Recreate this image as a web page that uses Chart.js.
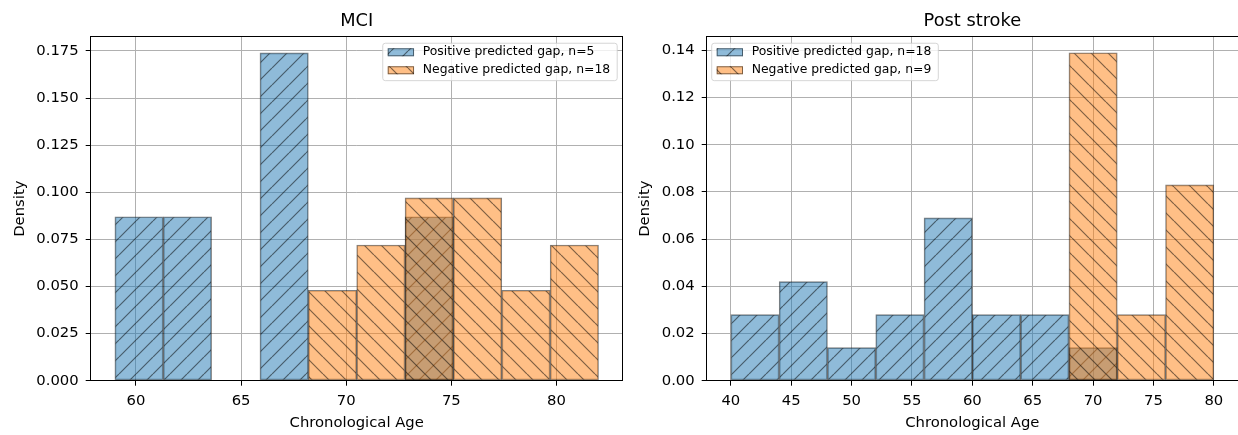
<!DOCTYPE html>
<html>
<head>
<meta charset="utf-8">
<script src="https://cdn.jsdelivr.net/npm/chart.js@4.4.0/dist/chart.umd.min.js"></script>
<style>
  html, body { margin: 0; padding: 0; background: #fff; overflow: hidden; }
  #wrap { position: relative; width: 1238px; height: 435px; overflow: hidden; }
  .panel { position: absolute; top: 0; }
  #mci-box { left: 0; }
  #stroke-box { left: 630px; }
</style>
</head>
<body>
<div id="wrap">
  <div class="panel" id="mci-box"><canvas id="mciChart" width="640" height="435"></canvas></div>
  <div class="panel" id="stroke-box"><canvas id="strokeChart" width="610" height="435"></canvas></div>
</div>
<script>
// MCI histogram (bin centres, density per bin)
const mciBins = [60.15, 62.45, 64.75, 67.05, 69.35, 71.65, 73.95, 76.25, 78.55, 80.85];
const mciPositive = [0.087, 0.087, 0, 0.174, 0, 0, 0.087, 0, 0, 0];
const mciNegative = [0, 0, 0, 0, 0.048, 0.072, 0.097, 0.097, 0.048, 0.072];
const mciLabels = ["Positive predicted gap, n=5", "Negative predicted gap, n=18"];
const mciXTicks = [60, 65, 70, 75, 80];
const mciYTicks = [0, 0.025, 0.05, 0.075, 0.1, 0.125, 0.15, 0.175];

// Post stroke histogram
const strokeBins = [42, 46, 50, 54, 58, 62, 66, 70, 74, 78];
const strokePositive = [0.028, 0.042, 0.014, 0.028, 0.069, 0.028, 0.028, 0.014, 0, 0];
const strokeNegative = [0, 0, 0, 0, 0, 0, 0, 0.139, 0.028, 0.083];
const strokeLabels = ["Positive predicted gap, n=18", "Negative predicted gap, n=9"];
const strokeXTicks = [40, 45, 50, 55, 60, 65, 70, 75, 80];
const strokeYTicks = [0, 0.02, 0.04, 0.06, 0.08, 0.1, 0.12, 0.14];

const FONT = "DejaVu Sans";
const BLUE = "rgba(31,119,180,0.5)";
const ORANGE = "rgba(255,127,14,0.5)";
const EDGE = "rgba(0,0,0,0.5)";

Chart.defaults.font.family = FONT;
Chart.defaults.color = "#000";

// matplotlib-like hatch fill
function hatch(color, dir) {
  const t = 17;
  const c = document.createElement("canvas");
  c.width = t; c.height = t;
  const g = c.getContext("2d");
  g.fillStyle = color;
  g.fillRect(0, 0, t, t);
  g.strokeStyle = EDGE;
  g.lineWidth = 1.2;
  g.beginPath();
  for (let k = -1; k <= 1; k++) {
    if (dir === "/") { g.moveTo(k * t, t); g.lineTo(k * t + t, 0); }
    else { g.moveTo(k * t, 0); g.lineTo(k * t + t, t); }
  }
  g.stroke();
  return g.createPattern(c, "repeat");
}

// spines + framed legend inside the axes
const frameLegend = {
  id: "frameLegend",
  afterDraw(chart, args, opts) {
    const { ctx, chartArea: a } = chart;
    ctx.save();
    ctx.strokeStyle = "#000";
    ctx.lineWidth = 1;
    const l = Math.floor(a.left) + 0.5, r = Math.floor(a.right) + 0.5;
    const t = Math.floor(a.top) + 0.5, b = Math.floor(a.bottom) + 0.5;
    ctx.strokeRect(l, t, r - l, b - t);

    const fs = 12.4;
    ctx.font = fs + "px \"" + FONT + "\"";
    const items = chart.data.datasets;
    const textW = Math.max(...items.map(d => ctx.measureText(d.label).width));
    const w = 40 + textW + 7, h = 37.4;
    const x0 = opts.align === "right" ? a.right - 5.5 - w : a.left + 5;
    const y0 = a.top + 6.6;
    ctx.beginPath();
    if (ctx.roundRect) ctx.roundRect(x0, y0, w, h, 2.5); else ctx.rect(x0, y0, w, h);
    ctx.fillStyle = "rgba(255,255,255,0.8)";
    ctx.fill();
    ctx.strokeStyle = "rgba(204,204,204,0.8)";
    ctx.stroke();
    items.forEach((d, i) => {
      const cy = y0 + 9 + i * 18;
      ctx.fillStyle = d.backgroundColor;
      ctx.fillRect(x0 + 5, cy - 4, 26.3, 8);
      ctx.strokeStyle = d.borderColor;
      ctx.strokeRect(x0 + 5.5, cy - 3.5, 25.3, 7);
      ctx.fillStyle = "#000";
      ctx.textBaseline = "middle";
      ctx.textAlign = "left";
      ctx.fillText(d.label, x0 + 40, cy);
    });
    ctx.restore();
  }
};

function makeHist(id, o) {
  const series = (vals, label, color, dir, order) => ({
    label,
    data: o.bins.map((x, i) => ({ x, y: vals[i] || null })),
    backgroundColor: hatch(color, dir),
    borderColor: EDGE,
    borderWidth: 1,
    borderSkipped: false,
    grouped: false,
    barPercentage: 1,
    categoryPercentage: 1,
    order
  });
  return new Chart(document.getElementById(id), {
    type: "bar",
    data: {
      datasets: [
        series(o.pos, o.labels[0], BLUE, "/", 2),
        series(o.neg, o.labels[1], ORANGE, "\\", 1)
      ]
    },
    options: {
      responsive: false,
      animation: false,
      layout: { padding: { left: 0, right: o.padRight, top: 0, bottom: 0 } },
      scales: {
        x: {
          type: "linear", min: o.xMin, max: o.xMax, offset: false, z: 1,
          afterBuildTicks: s => { s.ticks = o.xTicks.map(v => ({ value: v })); },
          afterFit: s => { s.height = 54.3; },
          grid: { color: "#b0b0b0", lineWidth: 1, offset: false, tickColor: "#000", tickLength: 5 },
          border: { display: false },
          ticks: { font: { size: 14.8 }, padding: 7, autoSkip: false, maxRotation: 0, callback: v => String(v) },
          title: { display: true, text: "Chronological Age", font: { size: 14.8 }, padding: { top: 0, bottom: 3 } }
        },
        y: {
          type: "linear", min: 0, max: o.yMax, z: 1,
          afterBuildTicks: s => { s.ticks = o.yTicks.map(v => ({ value: v })); },
          afterFit: s => { s.width = o.yWidth; },
          grid: { color: "#b0b0b0", lineWidth: 1, tickColor: "#000", tickLength: 5 },
          border: { display: false },
          ticks: { font: { size: 14.8 }, padding: 7, autoSkip: false, callback: v => v.toFixed(o.yDigits) },
          title: { display: true, text: "Density", font: { size: 14.8 }, padding: { top: o.yTitlePad, bottom: 0 } }
        }
      },
      plugins: {
        legend: { display: false },
        tooltip: { enabled: false },
        title: {
          display: true, text: o.title, fullSize: false,
          font: { size: 17.8, weight: "normal" }, color: "#000",
          padding: { top: 11, bottom: 4.3 }
        },
        frameLegend: { align: o.legendAlign }
      }
    },
    plugins: [frameLegend]
  });
}

makeHist("mciChart", {
  title: "MCI", bins: mciBins, pos: mciPositive, neg: mciNegative, labels: mciLabels,
  xTicks: mciXTicks, yTicks: mciYTicks, xMin: 57.85, xMax: 83.15, yMax: 0.1826, yDigits: 3,
  yWidth: 90.7, yTitlePad: 11, padRight: 17.3, legendAlign: "right"
});

makeHist("strokeChart", {
  title: "Post stroke", bins: strokeBins, pos: strokePositive, neg: strokeNegative, labels: strokeLabels,
  xTicks: strokeXTicks, yTicks: strokeYTicks, xMin: 38, xMax: 82, yMax: 0.1458, yDigits: 2,
  yWidth: 76.7, yTitlePad: 6, padRight: 2, legendAlign: "left"
});
</script>
</body>
</html>
